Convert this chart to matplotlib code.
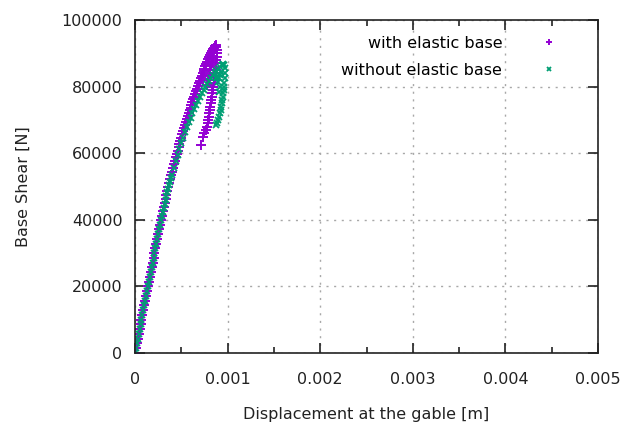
import matplotlib
matplotlib.use("Agg")
import matplotlib.pyplot as plt
from matplotlib.ticker import MultipleLocator, FixedLocator

# with elastic base: loading branch then unloading branch
with_x = [0, 0.00001, 0.00002, 0.00003, 0.00004, 0.00005, 0.00006, 0.00007, 0.00008, 0.00009,
          0.0001, 0.00011, 0.00012, 0.00013, 0.00014, 0.00015, 0.00016, 0.00017, 0.00018, 0.00019,
          0.0002, 0.00021, 0.00022, 0.00023, 0.00024, 0.00025, 0.00026, 0.00027, 0.00028, 0.00029,
          0.0003, 0.00031, 0.00032, 0.00033, 0.00034, 0.00035, 0.00036, 0.00037, 0.00038, 0.00039,
          0.0004, 0.00041, 0.00042, 0.00043, 0.00044, 0.00045, 0.00046, 0.00047, 0.00048, 0.00049,
          0.0005, 0.00051, 0.00052, 0.00053, 0.00054, 0.00055, 0.00056, 0.00057, 0.00058, 0.00059,
          0.0006, 0.00061, 0.00062, 0.00063, 0.00064, 0.00065, 0.00066, 0.00067, 0.00068, 0.00069,
          0.0007, 0.00071, 0.00072, 0.00073, 0.00074, 0.00075, 0.00076, 0.00077, 0.00078, 0.00079,
          0.0008, 0.00081, 0.00082, 0.00083, 0.00084, 0.00085, 0.00086, 0.00087, 0.00088,
          0.00089, 0.00089, 0.00089, 0.00088, 0.00088, 0.00087, 0.00087, 0.00086, 0.00086, 0.00085,
          0.00085, 0.00084, 0.00084, 0.00083, 0.00083, 0.00082, 0.00082, 0.00081, 0.00081, 0.0008,
          0.0008, 0.00079, 0.00079, 0.00078, 0.00077, 0.00075, 0.00073, 0.00071,
          0.00082, 0.00081, 0.0008, 0.00079, 0.00078, 0.00084, 0.00083]
with_y = [0, 1450, 2900, 4300, 5700, 7150, 8600, 10000, 11400, 12850,
          14300, 15700, 17100, 18550, 20000, 21450, 22900, 24300, 25700, 27150,
          28600, 30000, 31400, 32850, 34300, 35700, 37100, 38550, 40000, 41250,
          42500, 43750, 45000, 46250, 47500, 48750, 50000, 51150, 52300, 53400,
          54500, 55600, 56700, 57750, 58800, 59800, 60800, 61800, 62800, 63750,
          64700, 65650, 66600, 67500, 68400, 69300, 70200, 71100, 72000, 72850,
          73700, 74550, 75400, 76200, 77000, 77800, 78600, 79400, 80200, 80950,
          81700, 82450, 83200, 83950, 84700, 85400, 86100, 86800, 87500, 88150,
          88800, 89400, 90000, 90600, 91200, 91700, 92200, 92600, 92000,
          91000, 90000, 89000, 88000, 87000, 86000, 85000, 84000, 83000, 82000,
          81000, 80000, 79000, 78000, 77000, 76000, 75000, 74000, 73000, 72000,
          71000, 70000, 69000, 68000, 67000, 66000, 64800, 62500,
          86500, 85000, 83500, 82000, 80500, 88500, 87500]

# without elastic base: loading branch then unloading branch
without_x = [0, 0.00001, 0.00002, 0.00003, 0.00004, 0.00005, 0.00006, 0.00007, 0.00008, 0.00009,
             0.0001, 0.00011, 0.00012, 0.00013, 0.00014, 0.00015, 0.00016, 0.00017, 0.00018, 0.00019,
             0.0002, 0.00021, 0.00022, 0.00023, 0.00024, 0.00025, 0.00026, 0.00027, 0.00028, 0.00029,
             0.0003, 0.00031, 0.00032, 0.00033, 0.00034, 0.00035, 0.00036, 0.00037, 0.00038, 0.00039,
             0.0004, 0.00042, 0.00044, 0.00046, 0.00048, 0.0005, 0.00052, 0.00054, 0.00056, 0.00058,
             0.0006, 0.00062, 0.00064, 0.00066, 0.00068, 0.0007, 0.00072, 0.00074, 0.00076, 0.00078,
             0.0008, 0.00082, 0.00084, 0.00086, 0.00088, 0.0009, 0.00092, 0.00094, 0.00095,
             0.00096, 0.00097, 0.00097, 0.00097, 0.00096, 0.00096, 0.00096, 0.00095, 0.00095, 0.00094,
             0.00094, 0.00093, 0.00093, 0.00092, 0.00091, 0.0009, 0.00089, 0.00088,
             0.00093, 0.00092, 0.00091, 0.00090, 0.00092, 0.00091, 0.00089, 0.00087]
without_y = [0, 1450, 2900, 4300, 5700, 7150, 8600, 10000, 11400, 12850,
             14300, 15700, 17100, 18550, 20000, 21450, 22900, 24300, 25700, 27150,
             28600, 30000, 31400, 32850, 34300, 35700, 37100, 38550, 40000, 41200,
             42400, 43600, 44800, 46000, 47100, 48200, 49300, 50400, 51500, 52600,
             53600, 55600, 57600, 59500, 61300, 63000, 64700, 66300, 67800, 69300,
             70700, 72100, 73400, 74600, 75800, 76900, 78000, 79000, 80000, 80900,
             81800, 82600, 83400, 84100, 84800, 85400, 86000, 86500, 86800,
             86500, 85500, 84000, 82500, 81000, 80000, 79000, 78000, 77000, 76000,
             75000, 74000, 73000, 72000, 71000, 70000, 69200, 68500,
             84500, 83500, 82500, 81500, 80000, 78500, 83000, 82500]

x_ticks = [0, 0.001, 0.002, 0.003, 0.004, 0.005]
x_tick_labels = ["0", "0.001", "0.002", "0.003", "0.004", "0.005"]
y_ticks = [0, 20000, 40000, 60000, 80000, 100000]
y_tick_labels = ["0", "20000", "40000", "60000", "80000", "100000"]

plt.rcParams['font.family'] = ['DejaVu Sans']
fig = plt.figure(figsize=(6.21, 4.30), dpi=100)
ax = fig.add_axes([135 / 621, 77 / 430, (598 - 135) / 621, (353 - 20) / 430])

ax.plot(with_x, with_y, linestyle='none', marker='+', markersize=6.5, markeredgewidth=1.4,
        color='#9400D3', label='with elastic base')
ax.plot(without_x, without_y, linestyle='none', marker='x', markersize=5, markeredgewidth=1.3,
        color='#009E73', label='without elastic base')

ax.set_xlim(0, 0.005)
ax.set_ylim(0, 100000)
ax.xaxis.set_major_locator(FixedLocator(x_ticks))
ax.set_xticklabels(x_tick_labels)
ax.yaxis.set_major_locator(FixedLocator(y_ticks))
ax.set_yticklabels(y_tick_labels)
ax.xaxis.set_minor_locator(MultipleLocator(0.0005))

ax.tick_params(which='both', direction='in', top=True, right=True, labelsize=11.5,
               colors='#222222', width=1.2)
ax.tick_params(which='major', length=7)
ax.tick_params(which='minor', length=4)
ax.tick_params(axis='x', pad=14)
ax.tick_params(axis='y', pad=9)
for s in ax.spines.values():
    s.set_linewidth(1.2)
    s.set_color('#222222')

ax.grid(True, which='major', linestyle=(0, (1.5, 4)), color='#a8a8a8', linewidth=1.0)
ax.set_axisbelow(True)

ax.set_xlabel('Displacement at the gable [m]', fontsize=11.5, labelpad=14, color='#222222')
ax.set_ylabel('Base Shear [N]', fontsize=11.5, labelpad=22, color='#222222')

leg = ax.legend(loc='upper right', bbox_to_anchor=(0.945, 1.0), frameon=False, markerfirst=False,
                fontsize=11.5, handlelength=1.0, handletextpad=2.4, borderaxespad=0.6,
                labelspacing=0.75, markerscale=0.7)

fig.savefig('out.png', dpi=100)
